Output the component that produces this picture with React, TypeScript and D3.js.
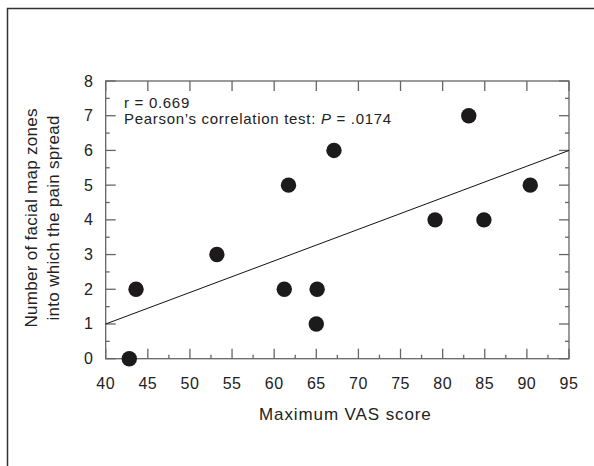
import React from 'react';
import * as d3 from 'd3';

const vasScores = [42.8, 43.6, 53.2, 61.2, 61.7, 65.1, 65.0, 67.1, 79.1, 83.1, 84.9, 90.4];
const zoneCounts = [0, 2, 3, 2, 5, 2, 1, 6, 4, 7, 4, 5];
const xTicks = [40, 45, 50, 55, 60, 65, 70, 75, 80, 85, 90, 95];
const xMinorTicks = [42.5, 47.5, 52.5, 57.5, 62.5, 67.5, 72.5, 77.5, 82.5, 87.5, 92.5];
const yTicks = [0, 1, 2, 3, 4, 5, 6, 7, 8];
const yMinorTicks = [0.5, 1.5, 2.5, 3.5, 4.5, 5.5, 6.5, 7.5];
const fitLine: [number, number][] = [[40, 1.0], [95, 6.0]];

const FONT = '"Liberation Sans", Arial, Helvetica, sans-serif';
const AXIS = '#666';
const INK = '#222';

const App: React.FC = () => {
  const W = 594;
  const H = 466;
  const left = 105.7, right = 569, top = 81, bottom = 358.7;

  const x = d3.scaleLinear().domain([40, 95]).range([left, right]);
  const y = d3.scaleLinear().domain([0, 8]).range([bottom, top]);

  const line = d3.line<[number, number]>()
    .x(d => x(d[0]))
    .y(d => y(d[1]));

  const points = vasScores.map((v, i) => ({ v, n: zoneCounts[i] }));

  return (
    <svg width={W} height={H} style={{ position: 'absolute', left: 0, top: 0 }}>
      <rect width={W} height={H} fill="#fff" />
      {/* page frame */}
      <path d={`M7.5,${H} V8.5 H${W}`} fill="none" stroke="#333" strokeWidth={1.5} />

      {/* axes box */}
      <rect x={left} y={top} width={right - left} height={bottom - top} fill="none" stroke={AXIS} strokeWidth={1.3} />

      {/* bottom ticks */}
      {xTicks.map(t => (
        <line key={'xb' + t} x1={x(t)} x2={x(t)} y1={bottom} y2={bottom - 10} stroke={AXIS} strokeWidth={1.3} />
      ))}
      {xMinorTicks.map(t => (
        <line key={'xm' + t} x1={x(t)} x2={x(t)} y1={bottom} y2={bottom - 4} stroke={AXIS} strokeWidth={1.3} />
      ))}
      {/* top ticks */}
      {xTicks.map(t => (
        <line key={'xt' + t} x1={x(t)} x2={x(t)} y1={top} y2={top + 10} stroke={AXIS} strokeWidth={1.3} />
      ))}
      {/* left & right ticks */}
      {yTicks.map(t => (
        <g key={'y' + t}>
          <line x1={left} x2={left + 10} y1={y(t)} y2={y(t)} stroke={AXIS} strokeWidth={1.3} />
          <line x1={right} x2={right - 10} y1={y(t)} y2={y(t)} stroke={AXIS} strokeWidth={1.3} />
        </g>
      ))}
      {yMinorTicks.map(t => (
        <g key={'ym' + t}>
          <line x1={left} x2={left + 4} y1={y(t)} y2={y(t)} stroke={AXIS} strokeWidth={1.3} />
          <line x1={right} x2={right - 4} y1={y(t)} y2={y(t)} stroke={AXIS} strokeWidth={1.3} />
        </g>
      ))}

      {/* tick labels */}
      {xTicks.map(t => (
        <text key={'xl' + t} x={x(t)} y={383} textAnchor="middle" dominantBaseline="central"
          fontFamily={FONT} fontSize={16} letterSpacing={0.5} fill={INK}>{t}</text>
      ))}
      {yTicks.map(t => (
        <text key={'yl' + t} x={93} y={y(t)} textAnchor="end" dominantBaseline="central"
          fontFamily={FONT} fontSize={16} fill={INK}>{t}</text>
      ))}

      {/* axis titles */}
      <text x={(left + right) / 2 + 8} y={414} textAnchor="middle" dominantBaseline="central"
        fontFamily={FONT} fontSize={17} letterSpacing={0.9} fill={INK}>Maximum VAS score</text>
      <g transform={`translate(31,${(top + bottom) / 2 - 2}) rotate(-90)`}>
        <text textAnchor="middle" dominantBaseline="central" fontFamily={FONT} fontSize={17} letterSpacing={0.3} fill={INK}>
          Number of facial map zones
        </text>
      </g>
      <g transform={`translate(53,${(top + bottom) / 2 - 2}) rotate(-90)`}>
        <text textAnchor="middle" dominantBaseline="central" fontFamily={FONT} fontSize={17} letterSpacing={0.3} fill={INK}>
          into which the pain spread
        </text>
      </g>

      {/* regression line */}
      <path d={line(fitLine) || ''} fill="none" stroke="#111" strokeWidth={1} />

      {/* points */}
      {points.map((p, i) => (
        <circle key={i} cx={x(p.v)} cy={y(p.n)} r={7.7} fill="#1c1a1a" />
      ))}

      {/* annotation */}
      <text x={124} y={108} fontFamily={FONT} fontSize={15} letterSpacing={0.7} fill={INK}>r = 0.669</text>
      <text x={124} y={124} fontFamily={FONT} fontSize={15} letterSpacing={0.7} fill={INK}>
        Pearson’s correlation test: <tspan fontStyle="italic">P</tspan> = .0174
      </text>
    </svg>
  );
};

export default App;
